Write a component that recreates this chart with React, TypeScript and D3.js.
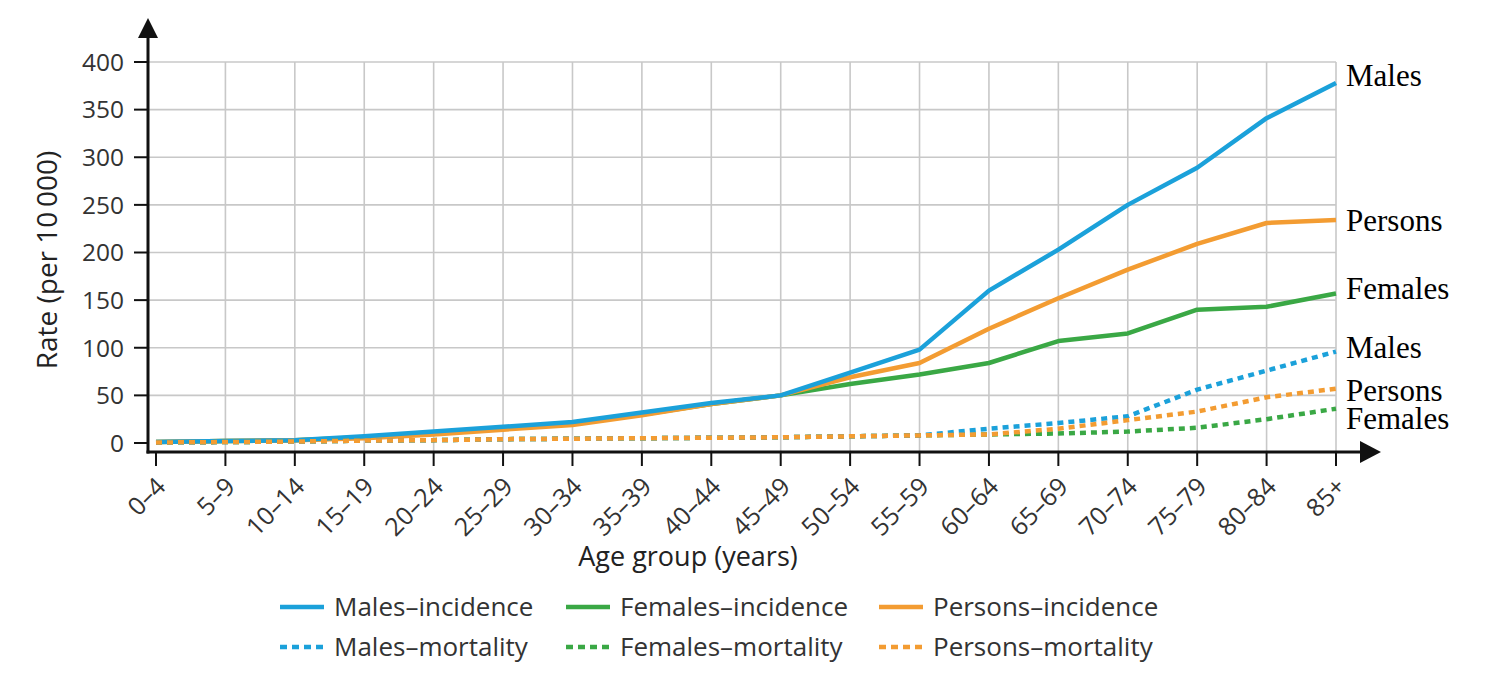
import React from 'react';
import * as d3 from 'd3';

// age groups on the x axis
const ageGroups = ['0–4', '5–9', '10–14', '15–19', '20–24', '25–29', '30–34', '35–39', '40–44',
  '45–49', '50–54', '55–59', '60–64', '65–69', '70–74', '75–79', '80–84', '85+'];

// rates per 10 000
const malesIncidence = [1, 2, 3, 7, 12, 17, 22, 32, 42, 50, 74, 98, 160, 203, 250, 289, 341, 378];
const femalesIncidence = [1, 2, 3, 6, 10, 15, 21, 30, 41, 50, 62, 72, 84, 107, 115, 140, 143, 157];
const personsIncidence = [1, 2, 3, 5, 9, 14, 19, 29, 41, 50, 69, 84, 120, 152, 182, 209, 231, 234];
const malesMortality = [0.5, 1, 1.5, 2.5, 3, 4, 4.5, 5, 5.5, 6, 7, 8, 15, 21, 28, 56, 76, 96];
const femalesMortality = [0.5, 1, 1.5, 2.5, 3, 4, 4.5, 5, 5.5, 6, 7, 8, 9, 10, 12, 16, 25, 36];
const personsMortality = [0.5, 1, 1.5, 2.5, 3, 4, 4.5, 5, 5.5, 6, 7, 8, 9, 15, 24, 33, 48, 57];

const yTicks = [0, 50, 100, 150, 200, 250, 300, 350, 400];

const BLUE = '#1ba1da';
const GREEN = '#3aa845';
const ORANGE = '#f39c32';

const series = [
  { name: 'Females–incidence', values: femalesIncidence, color: GREEN, dotted: false },
  { name: 'Persons–incidence', values: personsIncidence, color: ORANGE, dotted: false },
  { name: 'Males–incidence', values: malesIncidence, color: BLUE, dotted: false },
  { name: 'Females–mortality', values: femalesMortality, color: GREEN, dotted: true },
  { name: 'Males–mortality', values: malesMortality, color: BLUE, dotted: true },
  { name: 'Persons–mortality', values: personsMortality, color: ORANGE, dotted: true },
];

const legendRows = [
  ['Males–incidence', 'Females–incidence', 'Persons–incidence'],
  ['Males–mortality', 'Females–mortality', 'Persons–mortality'],
];

const endLabels = [
  { text: 'Males', series: 'Males–incidence', dy: -8 },
  { text: 'Persons', series: 'Persons–incidence', dy: 0 },
  { text: 'Females', series: 'Females–incidence', dy: -5 },
  { text: 'Males', series: 'Males–mortality', dy: -4 },
  { text: 'Persons', series: 'Persons–mortality', dy: 1 },
  { text: 'Females', series: 'Females–mortality', dy: 9 },
];

const SANS = '"Open Sans", "Noto Sans", sans-serif';

const App: React.FC = () => {
  const W = 1490, H = 679;
  const axisX = 148, axisY = 452;
  const x = d3.scalePoint<string>().domain(ageGroups).range([156, 1336]);
  const y = d3.scaleLinear().domain([0, 400]).range([443, 62]);
  const right = x(ageGroups[ageGroups.length - 1])!;

  const line = d3.line<number>()
    .x((_, i) => x(ageGroups[i])!)
    .y(d => y(d));

  const legendX = [280, 566, 879];
  const legendY = [607, 647];

  return (
    <div style={{ position: 'absolute', left: 0, top: 0 }}>
      <svg width={W} height={H} style={{ display: 'block', background: '#fff' }}>
        {/* grid */}
        <g stroke="#c8c8c8" strokeWidth={1.6}>
          {yTicks.filter(t => t > 0).map(t => (
            <line key={'h' + t} x1={axisX} x2={right} y1={y(t)} y2={y(t)} />
          ))}
          {ageGroups.slice(1).map(a => (
            <line key={'v' + a} x1={x(a)} x2={x(a)} y1={y(400)} y2={axisY} />
          ))}
        </g>

        {/* y axis */}
        <g>
          <line x1={axisX} x2={axisX} y1={axisY + 1.5} y2={30} stroke="#111" strokeWidth={3} />
          <path d={`M${axisX - 10},${38} L${axisX},${18} L${axisX + 10},${38} Z`} fill="#111" />
          {yTicks.map(t => (
            <g key={'yt' + t}>
              <line x1={axisX - 14} x2={axisX} y1={y(t)} y2={y(t)} stroke="#111" strokeWidth={2} />
              <text x={124} y={y(t)} dy="0.36em" textAnchor="end" fontFamily={SANS}
                fontSize={24.5} fill="#333">{t}</text>
            </g>
          ))}
          <text transform={`translate(57,${260}) rotate(-90)`} textAnchor="middle"
            fontFamily={SANS} fontSize={28} fill="#222">Rate (per 10{'\u2009'}000)</text>
        </g>

        {/* x axis */}
        <g>
          <line x1={axisX - 1.5} x2={1366} y1={axisY} y2={axisY} stroke="#111" strokeWidth={3} />
          <path d={`M1360,${axisY - 11} L1381,${axisY} L1360,${axisY + 11} Z`} fill="#111" />
          {ageGroups.map(a => (
            <g key={'xt' + a}>
              <line x1={x(a)} x2={x(a)} y1={axisY} y2={axisY + 14} stroke="#111" strokeWidth={2} />
              <text transform={`translate(${x(a)! + 5},${axisY + 30}) rotate(-45)`} textAnchor="end"
                dy="0.35em" fontFamily={SANS} fontSize={25} fill="#333">{a}</text>
            </g>
          ))}
          <text x={688} y={566} textAnchor="middle" fontFamily={SANS} fontSize={27}
            fill="#222">Age group (years)</text>
        </g>

        {/* lines */}
        <g fill="none" strokeLinejoin="round">
          {series.map(s => (
            <path key={s.name} d={line(s.values)!} stroke={s.color} strokeWidth={4.5}
              strokeDasharray={s.dotted ? '6 5' : undefined} />
          ))}
        </g>

        {/* end labels */}
        <g fontFamily='"Liberation Serif", "Times New Roman", serif' fontSize={31} fill="#000">
          {endLabels.map(l => {
            const s = series.find(ss => ss.name === l.series)!;
            return (
              <text key={l.series} x={right + 10} y={y(s.values[s.values.length - 1]) + l.dy}
                dy="0.35em">{l.text}</text>
            );
          })}
        </g>

        {/* legend */}
        <g fontFamily={SANS} fontSize={26} fill="#333">
          {legendRows.map((row, r) => row.map((name, c) => {
            const s = series.find(ss => ss.name === name)!;
            return (
              <g key={name} transform={`translate(${legendX[c]},${legendY[r]})`}>
                <line x1={0} x2={44} y1={0} y2={0} stroke={s.color} strokeWidth={4.5}
                  strokeDasharray={s.dotted ? '7 5' : undefined} />
                <text x={54} y={0} dy="0.35em">{name}</text>
              </g>
            );
          }))}
        </g>
      </svg>
    </div>
  );
};

export default App;
